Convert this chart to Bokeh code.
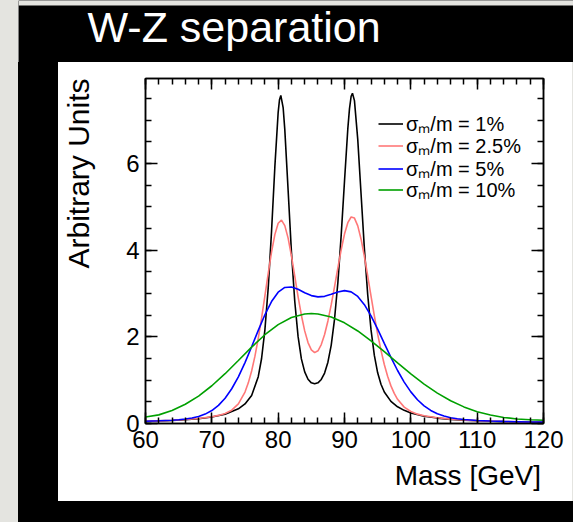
import math
from bokeh.plotting import figure
from bokeh.layouts import row, column
from bokeh.models import (Range1d, LinearAxis, SingleIntervalTicker, CustomJSTickFormatter,
                          Legend, LegendItem, Div, BoxAnnotation)
from bokeh.core.properties import value
from bokeh.embed import file_html
from bokeh.resources import INLINE

# ---------------- data ----------------
mass_1pct = [60, 62, 64, 66, 68, 70, 72, 74, 75, 76, 77, 77.5, 78, 78.5, 79, 79.5, 80, 80.2,
             80.4, 80.75, 81, 81.5, 82, 82.5, 83, 83.5, 84, 84.5, 85, 85.5, 86, 86.5, 87, 87.5,
             88, 88.5, 89, 89.5, 90, 90.5, 90.75, 91, 91.2, 91.5, 92, 92.5, 93, 93.5, 94, 94.5,
             95, 95.5, 96, 97, 98, 99, 100, 102, 104, 106, 108, 110, 112, 114, 116, 118, 120]
arb_1pct = [0.047, 0.056, 0.068, 0.085, 0.110, 0.149, 0.214, 0.339, 0.451, 0.648, 1.08, 1.50,
            2.16, 3.13, 4.43, 5.92, 7.18, 7.47, 7.57, 7.29, 6.78, 5.38, 3.96, 2.82, 2.01, 1.49,
            1.19, 1.02, 0.938, 0.915, 0.938, 1.016, 1.164, 1.415, 1.81, 2.41, 3.25, 4.34, 5.59,
            6.80, 7.26, 7.55, 7.62, 7.45, 6.55, 5.29, 4.03, 2.97, 2.16, 1.57, 1.17, 0.907, 0.727,
            0.511, 0.385, 0.303, 0.244, 0.169, 0.125, 0.096, 0.076, 0.062, 0.052, 0.044, 0.0375,
            0.0326, 0.0285]

mass_2p5pct = [60, 62, 64, 66, 68, 70, 71, 72, 73, 74, 75, 75.5, 76, 76.5, 77, 77.5, 78, 78.5,
               79, 79.5, 80, 80.5, 81, 81.5, 82, 82.5, 83, 83.5, 84, 84.5, 85, 85.5, 86, 86.5,
               87, 87.5, 88, 88.5, 89, 89.5, 90, 90.5, 91, 91.5, 92, 92.5, 93, 93.5, 94, 94.5,
               95, 95.5, 96, 96.5, 97, 97.5, 98, 99, 100, 101, 102, 104, 106, 108, 110, 112,
               114, 116, 118, 120]
arb_2p5pct = [0.051, 0.061, 0.074, 0.092, 0.117, 0.157, 0.187, 0.231, 0.307, 0.452, 0.726, 0.938,
              1.211, 1.553, 1.962, 2.431, 2.942, 3.464, 3.954, 4.358, 4.620, 4.693, 4.566, 4.277,
              3.866, 3.398, 2.929, 2.498, 2.137, 1.867, 1.698, 1.635, 1.678, 1.820, 2.054, 2.366,
              2.741, 3.158, 3.591, 4.008, 4.370, 4.633, 4.764, 4.739, 4.560, 4.252, 3.853, 3.403,
              2.938, 2.484, 2.062, 1.686, 1.361, 1.089, 0.868, 0.694, 0.558, 0.378, 0.276, 0.216,
              0.178, 0.132, 0.102, 0.082, 0.067, 0.056, 0.047, 0.041, 0.035, 0.031]

mass_5pct = [60, 61, 62, 63, 64, 65, 66, 67, 68, 69, 70, 71, 72, 73, 74, 75, 76, 77, 78, 79, 80,
             81, 82, 83, 84, 85, 86, 87, 88, 89, 90, 91, 92, 93, 94, 95, 96, 97, 98, 99, 100,
             101, 102, 103, 104, 105, 106, 107, 108, 110, 112, 114, 116, 118, 120]
arb_5pct = [0.052, 0.057, 0.062, 0.069, 0.076, 0.0875, 0.103, 0.127, 0.163, 0.217, 0.299, 0.418,
            0.583, 0.802, 1.077, 1.405, 1.770, 2.149, 2.509, 2.814, 3.030, 3.139, 3.150, 3.096,
            3.017, 2.951, 2.922, 2.934, 2.980, 3.035, 3.065, 3.037, 2.931, 2.742, 2.483, 2.177,
            1.850, 1.526, 1.223, 0.955, 0.730, 0.548, 0.407, 0.301, 0.225, 0.172, 0.134, 0.109,
            0.091, 0.070, 0.057, 0.048, 0.042, 0.036, 0.032]

mass_10pct = [60, 62, 64, 66, 68, 70, 72, 74, 76, 78, 80, 82, 84, 85, 86, 88, 90, 92, 94, 96, 98,
              100, 102, 104, 106, 108, 110, 112, 114, 116, 118, 120]
arb_10pct = [0.15, 0.199, 0.301, 0.444, 0.633, 0.871, 1.149, 1.454, 1.762, 2.048, 2.282, 2.445,
             2.526, 2.537, 2.528, 2.458, 2.323, 2.135, 1.908, 1.656, 1.397, 1.144, 0.910, 0.702,
             0.526, 0.383, 0.272, 0.195, 0.140, 0.105, 0.085, 0.075]

series_labels = ["σₘ/m = 1%", "σₘ/m = 2.5%", "σₘ/m = 5%", "σₘ/m = 10%"]
series_colors = ["#000000", "#ff7878", "#0000ff", "#00a000"]

title_text = "W-Z separation"
x_title = "Mass [GeV]"
y_title = "Arbitrary Units"
x_start, x_end, x_tick_step, x_minor = 60, 120, 10, 5
y_start, y_end, y_tick_step, y_minor = 0, 7.96, 2, 4

FONT = "Liberation Sans"
GREY = "#e4e4e0"


def blank_fig(w, h, bg, y_down=False):
    f = figure(width=w, height=h, output_backend="svg", toolbar_location=None, title=None,
               x_range=Range1d(0, w), y_range=Range1d(h, 0) if y_down else Range1d(0, h),
               x_axis_location=None, y_axis_location=None,
               min_border=0, min_border_left=0, min_border_right=0, min_border_top=0,
               min_border_bottom=0, background_fill_color=bg, border_fill_color=bg,
               outline_line_color=None)
    f.grid.visible = False
    return f


# ---------------- header (black band with white title) ----------------
TW, TH = 555, 62
tf = blank_fig(TW, TH, "black", y_down=True)
tf.add_layout(BoxAnnotation(top=0, bottom=5, fill_color=GREY, fill_alpha=1.0, line_color=None))
tf.text(x=[69], y=[26], text=[title_text], text_font=value(FONT),
        text_font_size=value("43px"), text_color="white", text_align="left",
        text_baseline="alphabetic")

# ---------------- main plot ----------------
YT_W = 40            # strip holding the y-axis title
XT_H = 42            # strip holding the x-axis title
PW, PH = 474, 397
BL, BR, BT, BB = 47, 29, 16, 36
FRAME_BOTTOM = PH - BB

p = figure(width=PW, height=PH, output_backend="svg", toolbar_location=None, title=None,
           x_range=Range1d(x_start, x_end), y_range=Range1d(y_start, y_end),
           x_axis_location=None, y_axis_location=None,
           min_border_left=BL, min_border_right=BR, min_border_top=BT, min_border_bottom=BB,
           background_fill_color="white", border_fill_color="white",
           outline_line_color="black", outline_line_width=1.5)
p.grid.visible = False


def make_axis(step, n_minor, major_len, minor_len, show_labels, standoff=5):
    ax = LinearAxis(ticker=SingleIntervalTicker(interval=step, num_minor_ticks=n_minor))
    ax.major_tick_in = major_len
    ax.major_tick_out = 0
    ax.minor_tick_in = minor_len
    ax.minor_tick_out = 0
    ax.axis_line_color = "black"
    ax.axis_line_width = 1.5
    ax.major_tick_line_color = "black"
    ax.major_tick_line_width = 1.5
    ax.minor_tick_line_color = "black"
    ax.minor_tick_line_width = 1.5
    if show_labels:
        ax.major_label_standoff = standoff
        ax.major_label_text_font = FONT
        ax.major_label_text_font_size = "24px"
        ax.major_label_text_color = "black"
    else:
        ax.major_label_standoff = 0
        ax.major_label_text_font_size = "0px"
        ax.formatter = CustomJSTickFormatter(code="return ''")
    return ax


p.add_layout(make_axis(x_tick_step, x_minor, 11, 6, True, 7), "below")
p.add_layout(make_axis(y_tick_step, y_minor, 12, 6, True, 6), "left")
p.add_layout(make_axis(x_tick_step, x_minor, 11, 6, False), "above")
p.add_layout(make_axis(y_tick_step, y_minor, 12, 6, False), "right")

# curves
renderers = []
for xs, ys, col in zip([mass_1pct, mass_2p5pct, mass_5pct, mass_10pct],
                       [arb_1pct, arb_2p5pct, arb_5pct, arb_10pct], series_colors):
    renderers.append(p.line(xs, ys, line_color=col, line_width=1.6))

# legend: one entry per row, rows placed at the reference's row positions (px in panel)
legend_row_y = [61, 83, 106, 127]
ITEM_H = 27
for lab, r, cy in zip(series_labels, renderers, legend_row_y):
    p.add_layout(Legend(items=[LegendItem(label=lab, renderers=[r])],
                        location=(233, FRAME_BOTTOM - cy - ITEM_H / 2), padding=0, margin=0,
                        spacing=0, glyph_width=25, glyph_height=ITEM_H, label_height=ITEM_H,
                        label_standoff=3, label_text_font=FONT, label_text_font_size="20px",
                        label_text_color="black", background_fill_alpha=0,
                        border_line_color=None))

# axis titles, right/top aligned like ROOT
ytf = blank_fig(YT_W, PH + XT_H, "white")
ytf.text(x=[19.5], y=[PH + XT_H - BT], text=[y_title], angle=math.pi / 2,
         text_font=value(FONT), text_font_size=value("30px"), text_color="black",
         text_align="right", text_baseline="alphabetic")

xtf = blank_fig(PW, XT_H, "white")
xtf.text(x=[PW - BR + 26], y=[26], text=[x_title], text_font=value(FONT),
         text_font_size=value("28px"), text_color="black", text_align="right",
         text_baseline="alphabetic")

# ---------------- slide frame pieces ----------------
grey_left = Div(text="", width=18, height=TH + PH + XT_H + 21, margin=0,
                styles={"background-color": GREY})
left_black = Div(text="", width=40, height=PH + XT_H, margin=0,
                 styles={"background-color": "black"})
grey_right = Div(text="", width=1, height=PH + XT_H, margin=0,
                 styles={"background-color": GREY})
bottom_black = Div(text="", width=TW, height=21, margin=0, styles={"background-color": "black"})

page = row(grey_left,
           column(tf,
                  row(left_black, ytf, column(p, xtf, spacing=0), grey_right, spacing=0),
                  bottom_black, spacing=0),
           spacing=0)

open("out.html", "w").write(file_html(page, INLINE))
